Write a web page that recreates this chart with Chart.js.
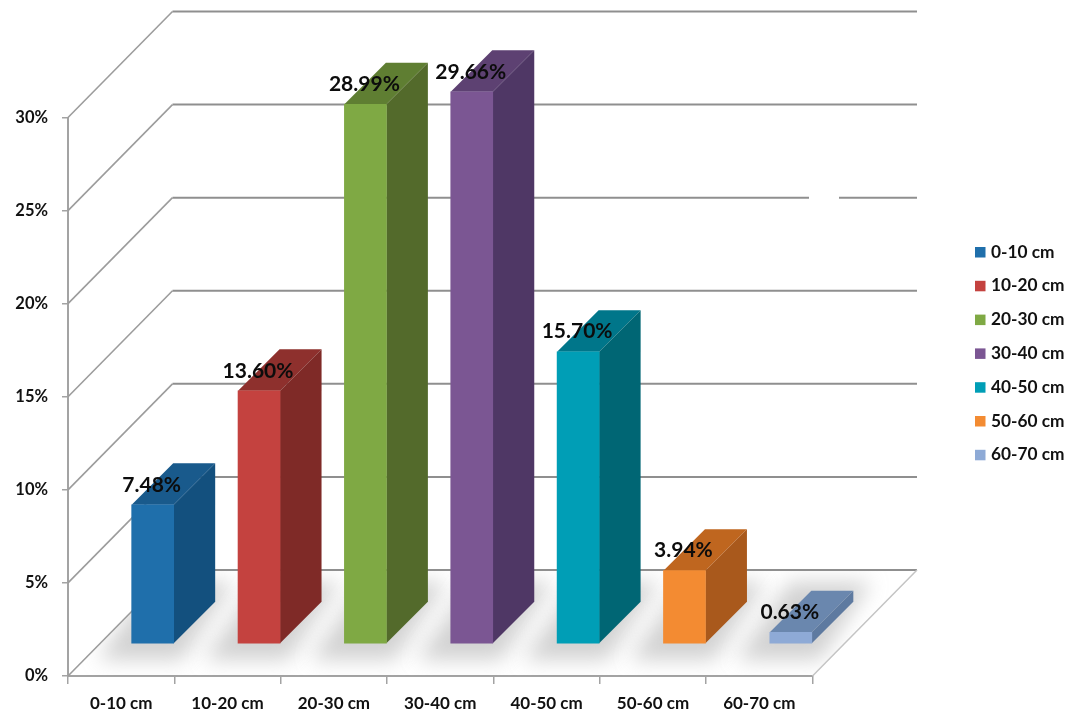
<!DOCTYPE html>
<html>
<head>
<meta charset="utf-8">
<title>Depth chart</title>
<script src="https://cdn.jsdelivr.net/npm/chart.js@4/dist/chart.umd.min.js"></script>
<style>
  body { margin: 0; background: #fff; }
  canvas { display: block; }
</style>
</head>
<body>
<canvas id="depthChart" width="1068" height="713"></canvas>
<script>
var categories = ["0-10 cm", "10-20 cm", "20-30 cm", "30-40 cm", "40-50 cm", "50-60 cm", "60-70 cm"];
var values = [7.48, 13.60, 28.99, 29.66, 15.70, 3.94, 0.63];
var valueLabels = ["7.48%", "13.60%", "28.99%", "29.66%", "15.70%", "3.94%", "0.63%"];
var yTicks = [0, 5, 10, 15, 20, 25, 30];

var frontColors = ['#1f6fab', '#c4423f', '#7fa944', '#7b5693', '#009eb6', '#f38b32', '#8eaad6'];
var topColors = ['#195a8c', '#8e302d', '#5f7e32', '#5d4172', '#00768a', '#bf661f', '#6a87ae'];
var sideColors = ['#13507e', '#7f2a27', '#536a2b', '#4f3765', '#006674', '#a9591c', '#5e7aa0'];

var fontFamily = 'Lato, "Noto Sans", sans-serif';
var gridColor = '#8f8f8f';

// the 3D box: front faces sit forward of the axis, the wall is pushed back
var barShift = { x: 31.5, y: -32 };
var barDepth = 41.5;
var wallShift = { x: 104.5, y: -106 };

function strokeLine(ctx, x1, y1, x2, y2, color, width) {
    ctx.strokeStyle = color;
    ctx.lineWidth = width;
    ctx.beginPath();
    ctx.moveTo(x1, y1);
    ctx.lineTo(x2, y2);
    ctx.stroke();
}

function fillPoly(ctx, pts, color) {
    ctx.fillStyle = color;
    ctx.beginPath();
    ctx.moveTo(pts[0][0], pts[0][1]);
    for (var i = 1; i < pts.length; i++) ctx.lineTo(pts[i][0], pts[i][1]);
    ctx.closePath();
    ctx.fill();
}

var box3d = {
    id: 'box3d',
    // walls, floor and soft shadows behind the bars
    beforeDatasetsDraw: function (chart) {
        var ctx = chart.ctx, area = chart.chartArea, y = chart.scales.y;
        var bars = chart.getDatasetMeta(0).data;
        ctx.save();

        var zero = y.getPixelForValue(0);
        ctx.save();
        ctx.beginPath();
        ctx.moveTo(area.left, zero);
        ctx.lineTo(area.left + wallShift.x, zero + wallShift.y);
        ctx.lineTo(area.right + wallShift.x, zero + wallShift.y);
        ctx.lineTo(area.right, zero);
        ctx.closePath();
        ctx.clip();
        ctx.filter = 'blur(10px)';
        bars.forEach(function (bar) {
            var l = bar.x + barShift.x - 21, r = bar.x + barShift.x + 21;
            var by = zero + barShift.y;
            fillPoly(ctx, [[l - 34, by + 16], [r + 8, by + 16], [r + 60, by - 62], [l + 20, by - 62]], 'rgba(130,130,130,0.36)');
        });
        ctx.restore();

        yTicks.forEach(function (t) {
            var py = y.getPixelForValue(t);
            var bx = area.left + wallShift.x, by = py + wallShift.y, ex = area.right + wallShift.x;
            strokeLine(ctx, area.left, py, bx, by, '#9c9c9c', 1.6);
            if (t === 20) {
                // this line is broken just short of the right end
                strokeLine(ctx, bx, by, 809, by, gridColor, 2);
                strokeLine(ctx, 839, by, ex, by, gridColor, 2);
            } else {
                strokeLine(ctx, bx, by, ex, by, gridColor, 2);
            }
        });
        strokeLine(ctx, area.right, zero, area.right + wallShift.x, zero + wallShift.y, '#c4c4c4', 1.5);
        ctx.restore();

        // top and side of each bar go under the front face
        ctx.save();
        ctx.translate(barShift.x, barShift.y);
        bars.forEach(function (bar, i) {
            var p = bar.getProps(['x', 'y', 'base', 'width'], true);
            var l = p.x - p.width / 2, r = p.x + p.width / 2;
            fillPoly(ctx, [[l, p.y], [r, p.y], [r + barDepth, p.y - barDepth], [l + barDepth, p.y - barDepth]], topColors[i]);
            fillPoly(ctx, [[r, p.y], [r + barDepth, p.y - barDepth], [r + barDepth, p.base - barDepth], [r, p.base]], sideColors[i]);
        });
    },
    afterDatasetsDraw: function (chart) {
        var ctx = chart.ctx;
        ctx.restore();

        // value labels straddle the top of each box
        ctx.save();
        ctx.font = 'bold 21px ' + fontFamily;
        ctx.fillStyle = '#0c0c0c';
        ctx.textAlign = 'center';
        ctx.textBaseline = 'middle';
        chart.getDatasetMeta(0).data.forEach(function (bar, i) {
            ctx.fillText(valueLabels[i], bar.x + barShift.x - 1, bar.y + barShift.y - 20);
        });
        ctx.restore();

        // legend column on the right
        ctx.save();
        ctx.font = 'bold 17.3px ' + fontFamily;
        ctx.textAlign = 'left';
        ctx.textBaseline = 'middle';
        categories.forEach(function (name, i) {
            var cy = 252 + i * 33.8;
            ctx.fillStyle = frontColors[i];
            ctx.fillRect(975, cy - 5, 10.5, 10.5);
            ctx.fillStyle = '#111';
            ctx.fillText(name, 991, cy);
        });
        ctx.restore();
    }
};

var ctx = document.getElementById('depthChart').getContext('2d');
var depthChart = new Chart(ctx, {
    type: 'bar',
    data: {
        labels: categories,
        datasets: [{
            label: 'Share by depth',
            data: values,
            backgroundColor: frontColors,
            barThickness: 42,
            borderWidth: 0,
            clip: false
        }]
    },
    options: {
        responsive: false,
        animation: false,
        layout: { padding: { left: 0, top: 117.5, right: 255.5, bottom: 0 } },
        plugins: { legend: { display: false }, tooltip: { enabled: false } },
        scales: {
            x: {
                afterFit: function (scale) { scale.height = 37; },
                border: { color: '#a3a3a3', width: 2 },
                grid: { drawOnChartArea: false, color: '#a3a3a3', tickLength: 8, lineWidth: 1.5 },
                ticks: { color: '#111', padding: 9, maxRotation: 0, font: { family: fontFamily, size: 17, weight: 'bold' } }
            },
            y: {
                min: 0,
                max: 30,
                afterFit: function (scale) { scale.width = 68; },
                afterBuildTicks: function (scale) {
                    scale.ticks = yTicks.map(function (v) { return { value: v }; });
                },
                border: { color: '#a3a3a3', width: 2 },
                grid: { drawOnChartArea: false, color: '#a3a3a3', tickLength: 6, lineWidth: 1.5 },
                ticks: {
                    color: '#111',
                    padding: 14,
                    font: { family: fontFamily, size: 16.5, weight: 'bold' },
                    callback: function (v) { return v + '%'; }
                }
            }
        }
    },
    plugins: [box3d]
});
</script>
</body>
</html>
